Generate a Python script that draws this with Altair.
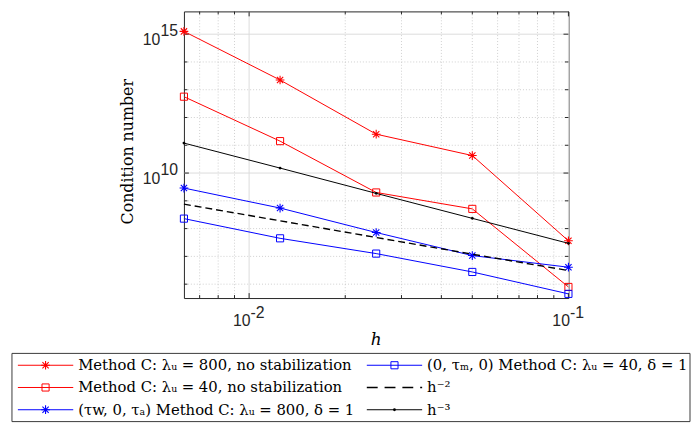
import altair as alt
import pandas as pd

# ---------------- data ----------------
h = [1/160, 1/80, 1/40, 1/20, 1/10]
red_star = [1.26e15, 2.24e13, 2.51e11, 4.27e10, 3.63e7]
red_square = [5.62e12, 1.41e11, 2.0e9, 5.13e8, 7.94e5]
blue_star = [2.88e9, 5.50e8, 7.24e7, 1.07e7, 4.07e6]
blue_square = [2.29e8, 4.47e7, 1.26e7, 2.75e6, 4.47e5]
ref_h2 = [7.59e8, 1.91e8, 4.79e7, 1.20e7, 3.09e6]
ref_h3 = [1.20e11, 1.51e10, 1.86e9, 2.34e8, 2.95e7]

series_keys = ["rs", "rq", "bs", "bq", "h2", "h3"]
series_vals = [red_star, red_square, blue_star, blue_square, ref_h2, ref_h3]
series_colors = ["#ff0000", "#ff0000", "#0000ff", "#0000ff", "#000000", "#000000"]
series_markers = ["star", "square", "star", "square", "none", "dot"]
legend_labels = [
    "Method C: λᵤ = 800, no stabilization",
    "Method C: λᵤ = 40, no stabilization",
    "(τw, 0, τₐ) Method C: λᵤ = 800, δ = 1",
    "(0, τₘ, 0) Method C: λᵤ = 40, δ = 1",
    "h⁻²",
    "h⁻³",
]

x_major = [0.01, 0.1]
x_minor = [0.007, 0.008, 0.009, 0.02, 0.03, 0.04, 0.05, 0.06, 0.07, 0.08, 0.09]
y_major = [1e10, 1e15]
y_minor = [1e6, 1e7, 1e8, 1e9, 1e11, 1e12, 1e13, 1e14]
x_label_vals = [0.01, 0.1]
x_label_exp = ["-2", "-1"]
y_label_vals = [1e10, 1e15]
y_label_exp = ["10", "15"]

# ---------------- tables ----------------
rows = []
for k, vals, col, mk in zip(series_keys, series_vals, series_colors, series_markers):
    for hv, v in zip(h, vals):
        rows.append({"h": hv, "c": v, "s": k, "color": col, "marker": mk})
df = pd.DataFrame(rows)

W, H = 389, 290
xscale = alt.Scale(type="log", domain=[1/160, 0.1], nice=False)
yscale = alt.Scale(type="log", domain=[10**5.5, 10**15.82], nice=False)
FG = "#262626"
STAR = "M-1,0L1,0M0,-1L0,1M-0.72,-0.72L0.72,0.72M-0.72,0.72L0.72,-0.72"

def X(f="h"):
    return alt.X(f"{f}:Q", scale=xscale, axis=None)

def Y(f="c"):
    return alt.Y(f"{f}:Q", scale=yscale, axis=None)

layers = []

# grid
gx_maj = pd.DataFrame({"v": x_major})
gx_min = pd.DataFrame({"v": x_minor})
gy_maj = pd.DataFrame({"v": y_major})
gy_min = pd.DataFrame({"v": y_minor})
layers.append(alt.Chart(gx_min).mark_rule(color="#c4c4c4", strokeWidth=0.8, strokeDash=[1, 2]).encode(x=X("v")))
layers.append(alt.Chart(gy_min).mark_rule(color="#c4c4c4", strokeWidth=0.8, strokeDash=[1, 2]).encode(y=Y("v")))
layers.append(alt.Chart(gx_maj).mark_rule(color="#dcdcdc", strokeWidth=1).encode(x=X("v")))
layers.append(alt.Chart(gy_maj).mark_rule(color="#dcdcdc", strokeWidth=1).encode(y=Y("v")))

# ticks (inside, all four sides)
for d, L in ((gx_maj, 5), (gx_min, 3)):
    layers.append(alt.Chart(d).mark_rule(color=FG, strokeWidth=1).encode(
        x=X("v"), y=alt.value(H), y2=alt.value(H - L)))
    layers.append(alt.Chart(d).mark_rule(color=FG, strokeWidth=1).encode(
        x=X("v"), y=alt.value(0), y2=alt.value(L)))
for d, L in ((gy_maj, 5), (gy_min, 3.5)):
    layers.append(alt.Chart(d).mark_rule(color=FG, strokeWidth=1).encode(
        y=Y("v"), x=alt.value(0), x2=alt.value(L)))
    layers.append(alt.Chart(d).mark_rule(color=FG, strokeWidth=1).encode(
        y=Y("v"), x=alt.value(W), x2=alt.value(W - L)))

# series lines and markers
base = alt.Chart(df)
for k, col, mk in zip(series_keys, series_colors, series_markers):
    sel = base.transform_filter(alt.datum.s == k)
    if k == "h2":
        layers.append(sel.mark_line(color=col, strokeWidth=1.4, strokeDash=[7, 4]).encode(x=X(), y=Y()))
    else:
        layers.append(sel.mark_line(color=col, strokeWidth=1).encode(x=X(), y=Y()))
    if mk == "star":
        layers.append(sel.mark_point(shape=STAR, size=78, filled=False, color=col, strokeWidth=1.1, opacity=1).encode(x=X(), y=Y()))
    elif mk == "square":
        layers.append(sel.mark_point(shape="square", size=52, filled=False, color=col, strokeWidth=1, opacity=1).encode(x=X(), y=Y()))
    elif mk == "dot":
        layers.append(sel.mark_point(shape="circle", size=8, filled=True, color=col, opacity=1).encode(x=X(), y=Y()))

# tick labels (10 + raised exponent)
xl = pd.DataFrame({"v": x_label_vals, "e": x_label_exp, "b": ["10"] * len(x_label_vals)})
yl = pd.DataFrame({"v": y_label_vals, "e": y_label_exp, "b": ["10"] * len(y_label_vals)})
lab = dict(font="Liberation Sans", fontSize=16, color=FG)
layers.append(alt.Chart(xl).mark_text(align="right", baseline="alphabetic", dx=1.5, **lab).encode(
    x=X("v"), y=alt.value(H + 28), text="b:N"))
layers.append(alt.Chart(xl).mark_text(align="left", baseline="alphabetic", dx=1.5, **lab).encode(
    x=X("v"), y=alt.value(H + 20), text="e:N"))
layers.append(alt.Chart(yl).mark_text(align="right", baseline="alphabetic", dy=11, **lab).encode(
    y=Y("v"), x=alt.value(-24), text="b:N"))
layers.append(alt.Chart(yl).mark_text(align="right", baseline="alphabetic", dy=2, **lab).encode(
    y=Y("v"), x=alt.value(-6), text="e:N"))

# axis titles
tt = pd.DataFrame({"t": ["Condition number"]})
layers.append(alt.Chart(tt).mark_text(font="DejaVu Serif", fontSize=16, angle=270, align="center",
                                      baseline="alphabetic", color="#000000").encode(
    x=alt.value(-52), y=alt.value(H / 2 - 3), text="t:N"))
th = pd.DataFrame({"t": ["h"]})
layers.append(alt.Chart(th).mark_text(font="DejaVu Serif", fontSize=17, fontStyle="italic", align="center",
                                      baseline="alphabetic", color="#000000").encode(
    x=alt.value(W / 2), y=alt.value(H + 47), text="t:N"))

# legend (box below the plot)
col_x0 = [-168, 185]
row_y0, row_dy = 358, 22.5
leg = []
for i, (lbl, col, mk, k) in enumerate(zip(legend_labels, series_colors, series_markers, series_keys)):
    c, r = i // 3, i % 3
    x0 = col_x0[c]
    leg.append({"label": lbl, "color": col, "marker": mk, "s": k,
                "lx1": x0, "lx2": x0 + 56, "mx": x0 + 28, "tx": x0 + 61, "ly": row_y0 + r * row_dy})
ldf = pd.DataFrame(leg)
box = pd.DataFrame({"a": [1]})
layers.append(alt.Chart(box).mark_rect(fill="white", stroke="#3a3a3a", strokeWidth=1).encode(
    x=alt.value(-174), x2=alt.value(512), y=alt.value(346), y2=alt.value(415)))
lb = alt.Chart(ldf)
PX = lambda f: alt.X(f"{f}:Q", scale=None, axis=None)
PY = lambda f: alt.Y(f"{f}:Q", scale=None, axis=None)
layers.append(lb.transform_filter(alt.datum.s != "h2").mark_rule(strokeWidth=1).encode(
    x=PX("lx1"), x2="lx2:Q", y=PY("ly"), color=alt.Color("color:N", scale=None)))
layers.append(lb.transform_filter(alt.datum.s == "h2").mark_rule(strokeWidth=1.4, strokeDash=[11, 7]).encode(
    x=PX("lx1"), x2="lx2:Q", y=PY("ly"), color=alt.Color("color:N", scale=None)))
layers.append(lb.transform_filter(alt.datum.marker == "star").mark_point(shape=STAR, size=78, filled=False, strokeWidth=1.1, opacity=1).encode(
    x=PX("mx"), y=PY("ly"), color=alt.Color("color:N", scale=None)))
layers.append(lb.transform_filter(alt.datum.marker == "square").mark_point(shape="square", size=52, filled=False, strokeWidth=1, opacity=1).encode(
    x=PX("mx"), y=PY("ly"), color=alt.Color("color:N", scale=None)))
layers.append(lb.transform_filter(alt.datum.marker == "dot").mark_point(shape="circle", size=8, filled=True, opacity=1).encode(
    x=PX("mx"), y=PY("ly"), color=alt.Color("color:N", scale=None)))
layers.append(lb.mark_text(align="left", baseline="middle", font="DejaVu Serif", fontSize=15, color="#000000").encode(
    x=PX("tx"), y=PY("ly"), text="label:N"))

chart = alt.layer(*layers).properties(
    width=W, height=H,
    padding={"left": 3, "top": 0, "right": 0, "bottom": 0},
    autosize=alt.AutoSizeParams(type="pad"),
).configure_view(stroke=FG, strokeWidth=1)

chart.save("out.html", embed_options={"renderer": "svg", "actions": False})
